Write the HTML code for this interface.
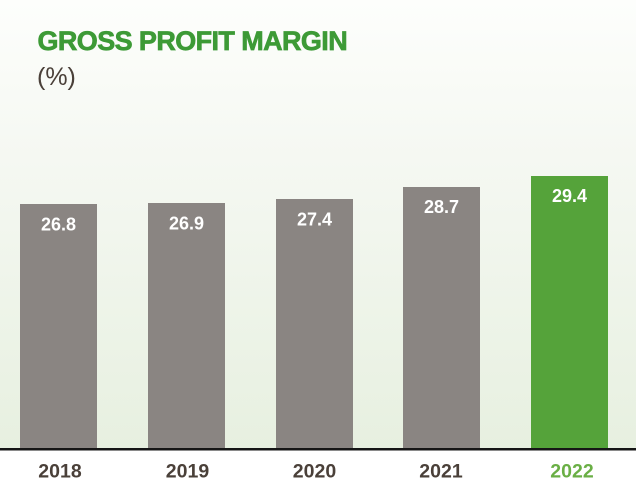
<!DOCTYPE html>
<html><head><meta charset="utf-8"><style>
html,body{margin:0;padding:0;background:#fff;}
svg{display:block;}
</style></head><body>
<svg width="636" height="501" viewBox="0 0 636 501" xmlns="http://www.w3.org/2000/svg">
<defs>
<linearGradient id="bg" x1="0" y1="0" x2="0" y2="1">
<stop offset="0" stop-color="#fdfefc"/>
<stop offset="0.35" stop-color="#f5f8f2"/>
<stop offset="1" stop-color="#e7f0e0"/>
</linearGradient>
</defs>
<rect x="0" y="0" width="636" height="449" fill="url(#bg)"/>
<rect x="0" y="449" width="636" height="52" fill="#ffffff"/>
<text x="37.5" y="50" font-family="Liberation Sans, sans-serif" font-weight="bold" font-size="27" letter-spacing="-0.6" fill="#3d9a36" stroke="#3d9a36" stroke-width="0.7">GROSS PROFIT MARGIN</text>
<text x="37" y="85" font-family="Liberation Sans, sans-serif" font-size="25" fill="#4a4039">(%)</text>
<g fill="#8a8582">
<rect x="20" y="204" width="77" height="244"/>
<rect x="148" y="203" width="77" height="245"/>
<rect x="276" y="199" width="77" height="249"/>
<rect x="403" y="187" width="77" height="261"/>
</g>
<rect x="531" y="176" width="77" height="272" fill="#55a33a"/>
<rect x="0" y="448" width="636" height="2.5" fill="#161616"/>
<g font-family="Liberation Sans, sans-serif" font-weight="bold" font-size="18" fill="#ffffff" text-anchor="middle">
<text x="58.5" y="230.5">26.8</text>
<text x="186.5" y="229.5">26.9</text>
<text x="314.5" y="225.5">27.4</text>
<text x="441.5" y="213">28.7</text>
<text x="569.5" y="202">29.4</text>
</g>
<g font-family="Liberation Sans, sans-serif" font-weight="bold" font-size="19.5" fill="#4a4039" text-anchor="middle">
<text x="60" y="477.7">2018</text>
<text x="187.5" y="477.7">2019</text>
<text x="314.5" y="477.7">2020</text>
<text x="441" y="477.7">2021</text>
<text x="572" y="477.7" fill="#6aaf45">2022</text>
</g>
</svg>
</body></html>
